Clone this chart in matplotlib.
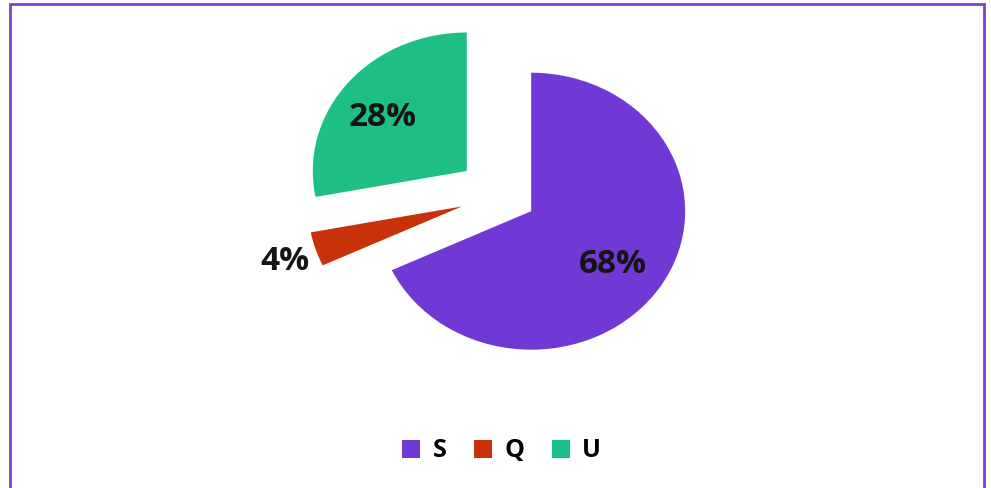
import matplotlib.pyplot as plt
from matplotlib.patches import Patch

labels = ['S', 'Q', 'U']
shares = [68, 4, 28]
explode = [0.34, 0.17, 0.17]
colors = ['#7039D5', '#C8320B', '#1DBF85']

fig = plt.figure(figsize=(9.91, 4.88), dpi=100)
ax = fig.add_axes([0, 0, 1, 1])

wedges, texts, autotexts = ax.pie(
    shares, explode=explode, colors=colors, startangle=90, counterclock=False,
    autopct='%d%%', pctdistance=0.62, labeldistance=None,
    wedgeprops=dict(linewidth=0),
    textprops=dict(fontsize=24, fontweight='bold', color='#151515', family='Open Sans'))

# nudge the thin slice a bit lower
qx, qy = wedges[1].center
wedges[1].set_center((qx, qy - 0.095))

# label offsets from each wedge's centre; the small slice is labelled outside
offsets = [(0.531, -0.388), (-1.15, -0.40), (-0.544, 0.383)]
for w, t, (dx, dy) in zip(wedges, autotexts, offsets):
    cx, cy = w.center
    t.set_position((cx + dx, cy + dy))

# horizontally stretched pie
ax.set_aspect('auto')
ax.set_xlim(-3.162, 3.273)
ax.set_ylim(-2.181, 1.343)
ax.axis('off')

handles = [Patch(facecolor=c, edgecolor='none') for c in colors]
fig.legend(handles, labels, loc='center', bbox_to_anchor=(0.506, 0.076), ncol=3,
           frameon=False, prop=dict(family='Open Sans', weight='bold', size=18),
           handlelength=0.72, handleheight=0.72, handletextpad=0.5, columnspacing=1.1)

# frame line around the chart area
border = plt.Rectangle((10 / 991, -0.05), (984 - 10) / 991, 1.05 - 4 / 488,
                       transform=fig.transFigure, fill=False, edgecolor='#7B42C9',
                       linewidth=2)
fig.add_artist(border)

fig.savefig('out.png', dpi=100, facecolor='white')
